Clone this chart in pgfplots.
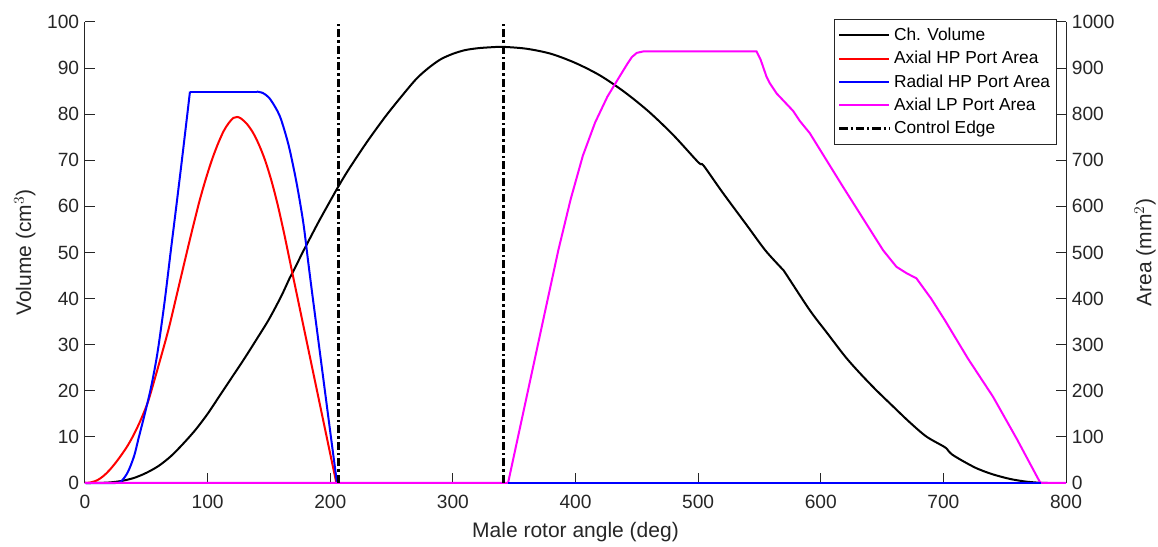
\documentclass[border=0pt]{standalone}
\usepackage{fontspec}
\setmainfont{Liberation Sans}
\usepackage{pgfplots}
\pgfplotsset{compat=1.18}
\definecolor{axgray}{RGB}{38,38,38}
\definecolor{mag}{RGB}{255,0,255}
\definecolor{pblue}{RGB}{0,0,255}
\definecolor{pred}{RGB}{255,0,0}

\pgfplotsset{
  twin/.style={
    scale only axis, width=588.6pt, height=276.6pt,
    xmin=0, xmax=800, clip=false,
    every outer x axis line/.append style={-, axgray, line width=0.6pt},
    every outer y axis line/.append style={-, axgray, line width=0.6pt},
    tick style={axgray, line width=0.6pt},
    tick align=inside, major tick length=6pt,
    ticklabel style={font=\fontsize{11.5}{13}\selectfont, text=axgray},
    xticklabel style={yshift=-4pt},
    label style={font=\fontsize{12.6}{14}\selectfont, text=axgray},
    /pgf/number format/assume math mode=true,
    /pgf/number format/1000 sep={},
  },
  lw/.style={line width=1.2pt},
  ctrl/.style={black, line width=1.7pt, dash pattern=on 5pt off 1.8pt on 1.3pt off 1.8pt},
}

\begin{document}
\begin{tikzpicture}
\useasboundingbox (-51pt,-38.4pt) rectangle (643.8pt,289.8pt);

% left axis: chamber volume
\begin{axis}[twin,
  axis x line*=bottom, axis y line*=left,
  ymin=0, ymax=100,
  xtick={0,100,...,800}, ytick={0,10,...,100},
  xlabel={Male rotor angle (deg)},
  ylabel={Volume (cm$^3$)},
  xlabel style={at={(axis description cs:0.5,-0.1063)}, anchor=center},
  ylabel style={at={(axis description cs:-0.0612,0.5)}, anchor=center},
]
\addplot[black, lw, smooth, tension=0.5] coordinates {
(0,0) (10,0.01) (20,0.12) (30,0.45) (40,1.1) (50,2.2) (60,3.7) (70,5.8)
(80,8.5) (90,11.5) (100,15) (110,19) (120,23) (130,27) (140,31.2)
(150,35.5) (160,40.5) (167,44.5) (170,46) (178,50.3) (180,51.3)
(190,56.4) (200,61.2) (207,64.5) (215,68) (230,74) (245,79.5) (257,83.5)
(270,87.6) (280,90) (290,91.9) (300,93.1) (310,93.9) (320,94.3)
(330,94.5) (341,94.6) (360,94.2) (380,93.1) (400,91.1) (420,88.4)
(440,84.8) (460,80.5) (480,75.4) (500,69.6) (503,69.2) (506,68.3)
(520,63) (540,55.8) (555,50.4) (569,46.3) (571,45.6) (591,37.5)
(605,32.6) (620,27.4) (632,23.8) (645,20.2) (659,16.6) (672,13.3)
(686,10.1) (701,7.8) (704,7.0) (707,6.2) (715,4.9) (727,3.2) (740,1.9)
(754,0.9) (766,0.35) (776,0.1) (785,0)
};
\end{axis}

% right axis: port areas
\begin{axis}[twin,
  axis x line=none, axis y line*=right,
  ymin=0, ymax=1000,
  ytick={0,100,...,1000},
  ylabel={Area (mm$^2$)},
  ylabel style={at={(axis description cs:1.0805,0.5)}, anchor=center, rotate=0},
  legend style={at={(0.991,1.0065)}, anchor=north east, draw=axgray,
    line width=0.5pt, font=\fontsize{10.4}{12}\selectfont,
    inner xsep=2pt, inner ysep=3pt, row sep=1pt, text=black},
  legend cell align=left,
  legend image code/.code={\draw[#1] (0pt,0pt) -- (30pt,0pt);},
]
\addlegendimage{black, lw}
\addlegendentry{Ch. Volume}

% Axial HP port
\addplot[pred, lw, smooth, tension=0.5] coordinates {
(0,0) (5,1.5) (10,6) (15,15) (20,28) (25,44) (30,62) (35,82) (40,106)
(45,134) (50,166) (53,190) (60,255) (68,332) (75,410) (83,500)
(88,555) (93,608) (98,655) (103,697) (108,733) (113,763) (117,780)
(121,792) (124,794) (127,791) (132,779) (137,760) (142,733) (147,699)
(152,656) (157,605) (162,546) (165,508) (170,444) (180,317) (190,190)
(200,63) (205,0)
};
\addlegendentry{Axial HP Port Area}
\addplot[pred, lw, forget plot] coordinates {(205,0) (800,0)};

% Radial HP port
\addplot[pblue, lw, smooth, tension=0.5] coordinates {
(0,0) (25,0) (30,5) (35,24) (40,58) (43.5,95) (48,142) (53,197)
(57,250) (60,298) (65,395) (69.8,500) (75,612) (80,722) (85.6,849)
};
\addlegendentry{Radial HP Port Area}
\addplot[pblue, lw, forget plot] coordinates {(85.6,849) (140,849)};
\addplot[pblue, lw, smooth, tension=0.5, forget plot] coordinates {
(140,849) (145,846) (150,836) (155,816) (159,795) (163,762) (167,722)
(172.6,650) (178,565) (182,480) (185,417) (190,315) (195,213)
(200,111) (205.5,0)
};

% Axial LP port
\addplot[mag, lw] coordinates {
(0,0) (345,0) (360,185) (375,370) (386,505) (396,615) (406,710)
(416,782) (426,838) (436,882) (442,908) (446,924) (450,933) (455,936)
(547.6,936) (551,918) (555.8,881) (558.5,867) (564,845) (577.5,807)
(583,785) (591,759) (618,643) (650.8,505) (661.7,469) (670,455)
(678,444) (690,400) (701,354) (720,270) (740.5,187) (760,95)
(778.5,3) (780,0) (800,0)
};
\addlegendentry{Axial LP Port Area}

\addplot[pblue, lw, forget plot] coordinates {(345,0) (780,0)};

\addplot[ctrl] coordinates {(206.5,0) (206.5,1000)};
\addlegendentry{Control Edge}
\addplot[ctrl, forget plot] coordinates {(341.6,0) (341.6,1000)};
\end{axis}
\end{tikzpicture}
\end{document}
